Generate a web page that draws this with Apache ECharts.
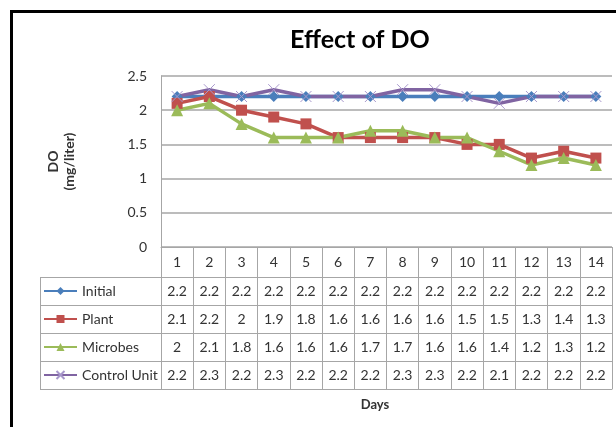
<!DOCTYPE html>
<html>
<head>
<meta charset="utf-8">
<script src="https://cdn.jsdelivr.net/npm/echarts@6/dist/echarts.min.js"></script>
<style>
html, body { margin: 0; padding: 0; background: #fff; }
#main { width: 616px; height: 427px; }
</style>
</head>
<body>
<div id="main"></div>
<script>
// data
var days = ['1', '2', '3', '4', '5', '6', '7', '8', '9', '10', '11', '12', '13', '14'];
var initial = [2.2, 2.2, 2.2, 2.2, 2.2, 2.2, 2.2, 2.2, 2.2, 2.2, 2.2, 2.2, 2.2, 2.2];
var plant = [2.1, 2.2, 2, 1.9, 1.8, 1.6, 1.6, 1.6, 1.6, 1.5, 1.5, 1.3, 1.4, 1.3];
var microbes = [2, 2.1, 1.8, 1.6, 1.6, 1.6, 1.7, 1.7, 1.6, 1.6, 1.4, 1.2, 1.3, 1.2];
var control = [2.2, 2.3, 2.2, 2.3, 2.2, 2.2, 2.2, 2.3, 2.3, 2.2, 2.1, 2.2, 2.2, 2.2];
var seriesNames = ['Initial', 'Plant', 'Microbes', 'Control Unit'];

var myChart = echarts.init(document.getElementById('main'));

var FONT = 'Lato';
var TXT = '#333';
var LINE = '#a6a6a6';
// table geometry (below the plot)
var tableTop = 247, headH = 30, rowH = 28, tableLeft = 40, plotLeft = 161;

var rows = [initial, plant, microbes, control];

// extra x axes = the rows of the data table
var tableAxes = rows.map(function (vals, k) {
    return {
        type: 'category',
        data: days,
        position: 'bottom',
        offset: headH + k * rowH,
        axisLine: { lineStyle: { color: LINE, width: 1 } },
        axisTick: { show: true, interval: 0, length: rowH, lineStyle: { color: LINE } },
        axisLabel: {
            interval: 0, margin: 7,
            fontFamily: FONT, fontSize: 14, color: TXT,
            formatter: function (v, i) { return String(vals[i]); }
        }
    };
});
// bottom border of the table
tableAxes.push({
    type: 'category',
    data: days,
    position: 'bottom',
    offset: headH + 4 * rowH,
    axisLine: { lineStyle: { color: LINE, width: 1 } },
    axisTick: { show: false },
    axisLabel: { show: false }
});

// left column lines of the table
var tableLines = [];
for (var r = 0; r <= 4; r++) {
    var y = tableTop + headH + r * rowH + 0.5;
    tableLines.push({ type: 'line', shape: { x1: tableLeft, y1: y, x2: plotLeft + 1, y2: y }, style: { stroke: LINE, lineWidth: 1 } });
}
tableLines.push({ type: 'line', shape: { x1: tableLeft + 0.5, y1: tableTop + headH, x2: tableLeft + 0.5, y2: tableTop + headH + 4 * rowH + 1 }, style: { stroke: LINE, lineWidth: 1 } });

option = {
    animation: false,
    title: {
        text: 'Effect of DO',
        left: 285,
        top: 22,
        textStyle: { fontFamily: FONT, fontSize: 25, fontWeight: 'bold', color: '#000' }
    },
    legend: {
        orient: 'vertical',
        left: 43,
        top: tableTop + headH + 7,
        padding: 0,
        itemGap: rowH - 14,
        itemWidth: 33,
        itemHeight: 10,
        lineStyle: { width: 2 },
        textStyle: { fontFamily: FONT, fontSize: 14, color: TXT, lineHeight: 14 },
        selectedMode: false,
        data: seriesNames
    },
    grid: {
        left: plotLeft,
        right: 4,
        top: 76,
        bottom: 427 - tableTop,
        containLabel: false
    },
    xAxis: [{
        type: 'category',
        data: days,
        name: 'Days',
        nameLocation: 'middle',
        nameGap: 151,
        nameTextStyle: { fontFamily: FONT, fontSize: 13, fontWeight: 'bold', color: TXT, padding: [0, 23, 0, 0] },
        axisLine: { lineStyle: { color: LINE, width: 1 } },
        axisTick: { show: true, interval: 0, length: headH, lineStyle: { color: LINE } },
        axisLabel: { interval: 0, margin: 8, fontFamily: FONT, fontSize: 14, color: TXT }
    }].concat(tableAxes),
    yAxis: {
        type: 'value',
        min: 0,
        max: 2.5,
        interval: 0.5,
        name: 'DO\n(mg/liter)',
        nameLocation: 'middle',
        nameRotate: 90,
        nameGap: 84,
        nameTextStyle: { fontFamily: FONT, fontSize: 14, fontWeight: 'bold', color: TXT, lineHeight: 16 },
        axisLine: { show: true, lineStyle: { color: LINE, width: 1 } },
        axisTick: { show: false },
        axisLabel: { margin: 14, fontFamily: FONT, fontSize: 14, color: TXT },
        splitLine: { lineStyle: { color: LINE, width: 1.5 } }
    },
    series: [{
        name: 'Initial',
        type: 'line',
        data: initial,
        symbol: 'diamond',
        symbolSize: 11,
        itemStyle: { color: '#4a7ebb' },
        lineStyle: { width: 3.5 }
    }, {
        name: 'Plant',
        type: 'line',
        data: plant,
        symbol: 'rect',
        symbolSize: 11,
        itemStyle: { color: '#c0504d' },
        lineStyle: { width: 3.5 }
    }, {
        name: 'Microbes',
        type: 'line',
        data: microbes,
        symbol: 'triangle',
        symbolSize: 12,
        itemStyle: { color: '#9bbb59' },
        lineStyle: { width: 3.5 }
    }, {
        name: 'Control Unit',
        type: 'line',
        data: control,
        symbol: 'path://M0,0L10,10M10,0L0,10',
        symbolSize: 11,
        itemStyle: { color: '#8064a2', borderColor: '#a898cc', borderWidth: 1 },
        lineStyle: { width: 3.5, color: '#8064a2' }
    }],
    graphic: tableLines.concat([{
        type: 'rect',
        shape: { x: 11.5, y: 11.5, width: 800, height: 600 },
        style: { fill: null, stroke: '#000', lineWidth: 3 }
    }])
};
myChart.setOption(option);
</script>
</body>
</html>
